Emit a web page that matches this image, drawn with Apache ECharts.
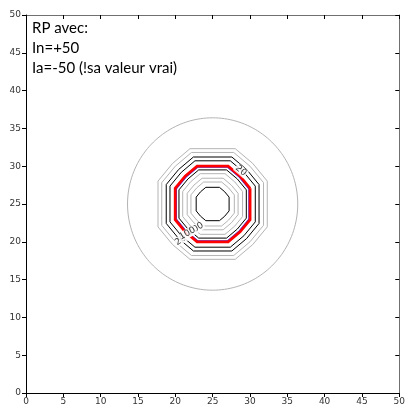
<!DOCTYPE html>
<html>
<head>
<meta charset="utf-8">
<script src="https://cdn.jsdelivr.net/npm/echarts@6/dist/echarts.min.js"></script>
<style>
  html, body { margin: 0; padding: 0; background: #fff; }
  #chart { width: 408px; height: 409px; }
</style>
</head>
<body>
<div id="chart"></div>
<script>
// Axis ticks (both axes share the same range)
const tickValues = [0, 5, 10, 15, 20, 25, 30, 35, 40, 45, 50];

// Centre of the pattern
const centre = [25, 25];

// Contour rings around the centre: distance to the flat sides (units) and kind
const ringRadius = [7.3, 6.8, 6.2, 5.7, 4.85, 5.0, 4.5, 4.0, 3.4, 2.9, 2.2];
const ringKind   = ['minor', 'minor', 'major', 'major', 'ref2', 'ref', 'major', 'minor', 'minor', 'minor', 'major'];

// Outer smooth boundary circle
const outerRadius = 11.4;

// Contour labels: text and anchor position
const labelText = ['20', '20', '200', '100'];
const labelPos  = [[28.8, 29.4], [20.7, 20.2], [22.7, 21.7], [21.6, 21.1]];
const labelRot  = [-40, 35, 30, 30];

// Annotation text
const noteLines = ['RP avec:', 'In=+50', 'Ia=-50 (!sa valeur vrai)'];

const kindStyle = {
  minor: { color: '#b4b4b4', width: 1 },
  major: { color: '#000000', width: 1 },
  ref:   { color: '#ff0000', width: 2.8 },
  ref2:  { color: '#2b2bff', width: 1.2 }
};

// Grid contours come out as 12-sided outlines with flat top/bottom/sides
function contourShape(apothem) {
  const pts = [];
  for (let q = 0; q < 4; q++) {
    const base = q * Math.PI / 2;
    [[Math.PI / 8, 1.085], [Math.PI / 4, 1.04], [3 * Math.PI / 8, 1.085]].forEach(([a, f]) => {
      const ang = base + a;
      pts.push([centre[0] + apothem * f * Math.cos(ang), centre[1] + apothem * f * Math.sin(ang)]);
    });
  }
  pts.push(pts[0]);
  return pts;
}
function circle(r) {
  const pts = [];
  for (let k = 0; k <= 180; k++) {
    const a = k * 2 * Math.PI / 180;
    pts.push([centre[0] + r * Math.cos(a), centre[1] + r * Math.sin(a)]);
  }
  return pts;
}

const series = [];
series.push({
  type: 'line', data: circle(outerRadius), showSymbol: false, symbol: 'none',
  lineStyle: { color: '#b4b4b4', width: 1 }, silent: true, z: 2
});
ringRadius.forEach((r, i) => {
  const s = kindStyle[ringKind[i]];
  series.push({
    type: 'line', data: contourShape(r), showSymbol: false, symbol: 'none',
    lineStyle: { color: s.color, width: s.width, join: 'miter' },
    silent: true, z: ringKind[i] === 'ref' ? 5 : (ringKind[i] === 'ref2' ? 4 : 3)
  });
});
series.push({
  type: 'scatter', symbolSize: 0, silent: true, z: 6,
  data: labelPos.map((p, i) => ({
    value: p,
    label: {
      show: true, position: 'inside', formatter: labelText[i], rotate: labelRot[i],
      fontSize: 9, color: '#000', backgroundColor: '#fff', padding: [0, 1],
      fontFamily: 'DejaVu Sans'
    }
  }))
});

const axisBase = {
  type: 'value', min: 0, max: 50, interval: 5,
  splitLine: { show: false }
};

const chart = echarts.init(document.getElementById('chart'), null, { renderer: 'canvas' });
chart.setOption({
  animation: false,
  backgroundColor: '#fff',
  grid: { left: 26, right: 4, top: 15, bottom: 16, containLabel: false },
  xAxis: [
    Object.assign({}, axisBase, {
      position: 'bottom',
      axisLine: { show: true, onZero: false, lineStyle: { color: '#000', width: 1 } },
      axisTick: { show: true, length: 4, lineStyle: { color: '#000' } },
      axisLabel: { fontSize: 9, color: '#333', margin: 4, fontFamily: 'DejaVu Sans',
        formatter: v => tickValues.includes(v) ? String(v) : '' }
    }),
    Object.assign({}, axisBase, {
      position: 'top',
      axisLine: { show: true, onZero: false, lineStyle: { color: '#707070', width: 1 } },
      axisTick: { show: true, inside: true, length: 4, lineStyle: { color: '#000' } },
      axisLabel: { show: false }
    })
  ],
  yAxis: [
    Object.assign({}, axisBase, {
      position: 'left',
      axisLine: { show: true, onZero: false, lineStyle: { color: '#000', width: 1 } },
      axisTick: { show: true, length: 4, lineStyle: { color: '#000' } },
      axisLabel: { fontSize: 9, color: '#333', margin: 5, fontFamily: 'DejaVu Sans',
        formatter: v => tickValues.includes(v) ? String(v) : '' }
    }),
    Object.assign({}, axisBase, {
      position: 'right',
      axisLine: { show: true, onZero: false, lineStyle: { color: '#707070', width: 1 } },
      axisTick: { show: true, inside: true, length: 4, lineStyle: { color: '#000' } },
      axisLabel: { show: false }
    })
  ],
  graphic: noteLines.map((t, i) => ({
    type: 'text', left: 32, top: 21 + i * 20,
    style: { text: t, fontSize: 15, fill: '#000', fontFamily: 'Lato' }
  })),
  series: series
});
</script>
</body>
</html>
